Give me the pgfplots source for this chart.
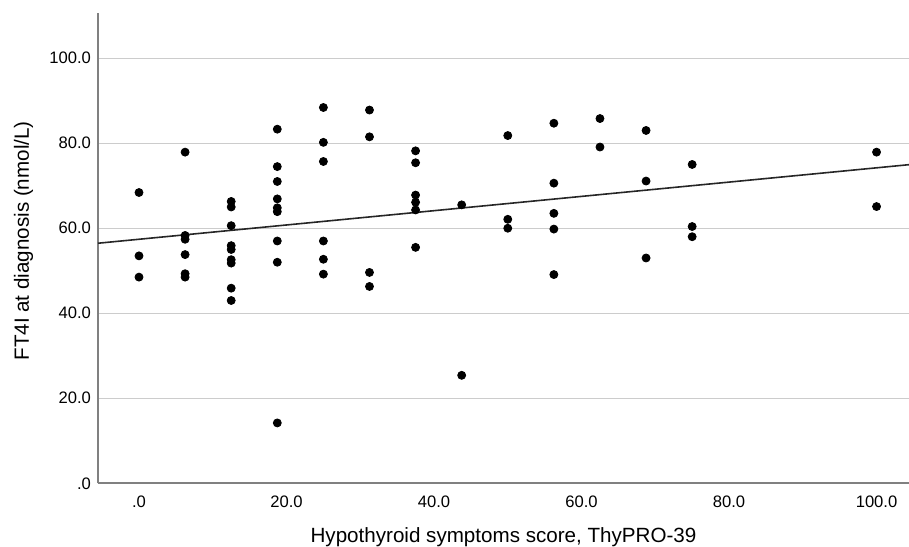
\documentclass[border=0pt]{standalone}
\usepackage{pgfplots}
\pgfplotsset{compat=1.18}
\usepackage{pgfplotstable}
\usepackage{fontspec}
\setmainfont{Liberation Sans}

% ThyPRO-39 score vs FT4I
\pgfplotstableread{
x y
0 68.4
0 53.5
0 48.5
6.25 77.9
6.25 58.3
6.25 57.4
6.25 53.8
6.25 49.3
6.25 48.5
12.5 66.3
12.5 65.0
12.5 60.6
12.5 55.9
12.5 55.0
12.5 52.6
12.5 51.8
12.5 45.9
12.5 43.0
18.75 83.3
18.75 74.5
18.75 71.0
18.75 66.9
18.75 64.8
18.75 63.9
18.75 57.0
18.75 52.0
18.75 14.2
25 88.4
25 80.2
25 75.7
25 57.0
25 52.7
25 49.2
31.25 87.8
31.25 81.5
31.25 49.6
31.25 46.3
37.5 78.2
37.5 75.4
37.5 67.8
37.5 66.1
37.5 64.3
37.5 55.5
43.75 65.5
43.75 25.4
50 81.8
50 62.1
50 60.0
56.25 84.7
56.25 70.6
56.25 63.5
56.25 59.8
56.25 49.1
62.5 85.8
62.5 79.1
68.75 83.0
68.75 71.1
68.75 53.0
75 75.0
75 60.4
75 58.0
100 77.9
100 65.1
}\scores

\begin{document}
\begin{tikzpicture}
\useasboundingbox (-49pt,-31.35pt) rectangle (405.5pt,241.65pt);
\begin{axis}[
    scale only axis,
    width=405.5pt, height=235.3pt,
    xmin=-5.56, xmax=104.4,
    ymin=0, ymax=110.7,
    axis lines*=left,
    axis line style={-, draw=black!50, line width=1pt},
    xtick={0,20,40,60,80,100},
    xticklabels={.0,20.0,40.0,60.0,80.0,100.0},
    ytick={0,20,40,60,80,100},
    yticklabels={.0,20.0,40.0,60.0,80.0,100.0},
    major tick length=0pt,
    tick label style={font=\fontsize{8.3}{10}\selectfont},
    xticklabel style={yshift=-3pt},
    ymajorgrids,
    grid style={draw=black!20, line width=0.6pt},
    xlabel={Hypothyroid symptoms score, ThyPRO-39},
    ylabel={FT4I at diagnosis (nmol/L)},
    label style={font=\fontsize{10.3}{12}\selectfont},
    xlabel style={at={([yshift=-26.85pt]axis description cs:0.5,0)}, anchor=center},
    ylabel style={at={([xshift=-37.2pt]axis description cs:0,0.515)}, anchor=center},
    clip=false,
]
\addplot[only marks, mark=*, mark size=2pt, black] table[x=x, y=y] {\scores};
% fit line
\addplot[black!85, line width=0.8pt] coordinates {(-5.56,56.47) (104.4,74.95)};
\end{axis}
\end{tikzpicture}
\end{document}
